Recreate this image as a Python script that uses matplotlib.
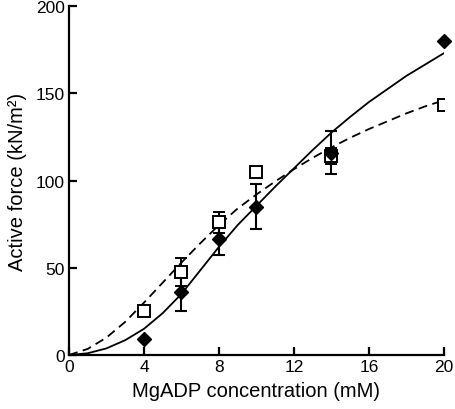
import numpy as np
import matplotlib
matplotlib.use('Agg')
import matplotlib.pyplot as plt

plt.rcParams['font.family'] = ['Liberation Sans', 'DejaVu Sans']

# measured points
conc = [4, 6, 8, 10, 14, 20]
force_filled = [9, 36, 66.5, 85, 116, 180]
err_filled = [0, 11, 9, 13, 12.5, 0]
force_open = [25, 47.5, 76, 105, 114, 143]
err_open = [0, 8, 6, 0, 4.5, 0]

# fitted curves
curve_x = [0, 1, 2, 3, 4, 5, 6, 7, 8, 9, 10, 11, 12, 13, 14, 15, 16, 17, 18, 19, 20]
curve_solid = [0, 1, 3.8, 8.5, 15, 24, 35, 48.5, 62, 74.5, 85.5, 96.5, 107,
               117.5, 127.5, 136.5, 145, 152.5, 160, 166.5, 173]
curve_dashed = [0, 3.5, 10, 19, 30, 41.5, 53, 64, 74.5, 84, 92, 99.5, 106.5,
                113, 119, 124.5, 129.5, 134, 138.5, 142.5, 146]

fig = plt.figure(figsize=(4.55, 4.10), dpi=100)
ax = fig.add_axes([0.1516, 0.1317, 0.8242, 0.8512])

ax.plot(curve_x, curve_solid, color='black', lw=1.3, zorder=1)
ax.plot(curve_x, curve_dashed, color='black', lw=1.3, ls=(0, (5, 3)), zorder=1)

ax.errorbar(conc, force_filled, yerr=err_filled, fmt='none', ecolor='black',
            elinewidth=1.5, capsize=4.3, capthick=1.5, zorder=2)
ax.errorbar(conc, force_open, yerr=err_open, fmt='s', color='black',
            mfc='white', mec='black', ms=8, mew=1.4,
            elinewidth=1.5, capsize=4.3, capthick=1.5, zorder=3)
ax.plot(conc, force_filled, 'D', color='black', ms=7, zorder=4, clip_on=False)

ax.set_xlim(0, 20)
ax.set_ylim(0, 200)
ax.set_xticks([0, 4, 8, 12, 16, 20])
ax.set_yticks([0, 50, 100, 150, 200])

for s in ['top', 'right']:
    ax.spines[s].set_visible(False)
for s in ['left', 'bottom']:
    ax.spines[s].set_linewidth(1.6)
ax.tick_params(direction='in', length=6, width=1.6, labelsize=12.5, pad=3)

ax.set_xlabel('MgADP concentration (mM)', fontsize=14.5, labelpad=5)
ax.set_ylabel('Active force (kN/m²)', fontsize=14.5, labelpad=6)

plt.savefig('out.png', dpi=100)
